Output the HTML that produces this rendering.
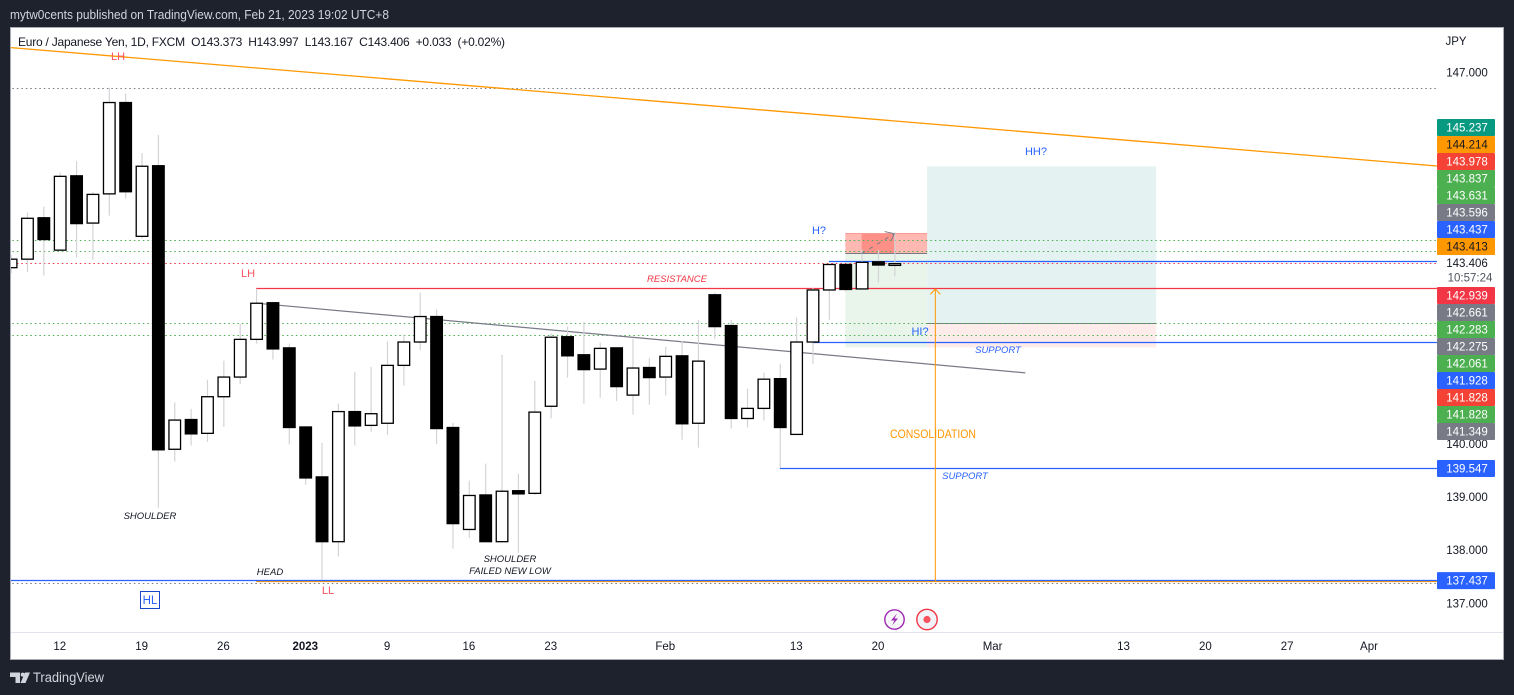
<!DOCTYPE html>
<html lang="en">
<head>
<meta charset="utf-8">
<title>EUR/JPY chart</title>
<style>
html,body{margin:0;padding:0;background:#1e222d;width:1514px;height:695px;overflow:hidden}
svg{display:block;font-family:"Liberation Sans",sans-serif}
</style>
</head>
<body>
<svg id="root" width="1514" height="695" viewBox="0 0 1514 695" xmlns="http://www.w3.org/2000/svg">
  <defs><clipPath id="pane"><rect x="11" y="28" width="1426" height="604"/></clipPath></defs>
  <rect x="0" y="0" width="1514" height="695" fill="#1e222d"/>
  <text x="10" y="19" font-size="12.5" fill="#d1d4dc" textLength="379" lengthAdjust="spacingAndGlyphs">mytw0cents published on TradingView.com, Feb 21, 2023 19:02 UTC+8</text>
  <rect x="10.5" y="27.5" width="1493" height="632" fill="#fff" stroke="#a8abb4" stroke-width="1"/>
  <g id="pane-layer" clip-path="url(#pane)"></g>
  <g id="notes" font-size="11">
    <text x="118" y="60" fill="#f7525f" text-anchor="middle">LH</text>
    <text x="248" y="277" fill="#f7525f" text-anchor="middle">LH</text>
    <text x="677" y="282" fill="#f23645" font-size="9.5" font-style="italic" text-anchor="middle">RESISTANCE</text>
    <text x="819" y="234" fill="#2962ff" text-anchor="middle">H?</text>
    <text x="1036" y="155" fill="#2962ff" text-anchor="middle">HH?</text>
    <text x="920" y="335" fill="#2962ff" text-anchor="middle">HI?</text>
    <text x="998" y="353" fill="#2962ff" font-size="9.5" font-style="italic" text-anchor="middle">SUPPORT</text>
    <text x="965" y="479" fill="#2962ff" font-size="9.5" font-style="italic" text-anchor="middle">SUPPORT</text>
    <text x="933" y="438" fill="#ff9800" font-size="11.5" text-anchor="middle" textLength="86" lengthAdjust="spacingAndGlyphs">CONSOLIDATION</text>
    <text x="150" y="519" fill="#131722" font-size="9.5" font-style="italic" text-anchor="middle">SHOULDER</text>
    <text x="270" y="575" fill="#131722" font-size="9.5" font-style="italic" text-anchor="middle">HEAD</text>
    <text x="510" y="562" fill="#131722" font-size="9.5" font-style="italic" text-anchor="middle">SHOULDER</text>
    <text x="510" y="574" fill="#131722" font-size="9.5" font-style="italic" text-anchor="middle">FAILED NEW LOW</text>
    <text x="328" y="594" fill="#f7525f" text-anchor="middle">LL</text>
    <rect x="140.5" y="591.5" width="19" height="17" fill="#fff" stroke="#1848cc" stroke-width="1"/>
    <text x="150" y="604" fill="#2962ff" font-size="11.5" text-anchor="middle">HL</text>
  </g>
  <g>
    <circle cx="894.5" cy="619.5" r="9.7" fill="#f7f7fb" stroke="#9c27b0" stroke-width="1.4"/>
    <path d="M897 613.5 L891 620.5 H894.5 L892 625.5 L898 618.5 H894.5 Z" fill="#9c27b0"/>
  </g>
  <g>
    <circle cx="927" cy="619.5" r="10.2" fill="#f2f3f9" stroke="#f23645" stroke-width="1.4"/>
    <circle cx="927" cy="619.5" r="3.6" fill="#f7525f"/>
  </g>
  <line x1="11" y1="632.5" x2="1503" y2="632.5" stroke="#e0e3eb" stroke-width="1"/>
  <g id="time-axis" font-size="11.5" fill="#131722" text-anchor="middle"></g>
  <g id="price-axis" font-size="11.5" text-anchor="middle"></g>
  <text x="1456" y="45" font-size="11.5" fill="#131722" text-anchor="middle">JPY</text>
  <text x="18" y="46" font-size="12" fill="#131722" textLength="487" lengthAdjust="spacing">Euro / Japanese Yen, 1D, FXCM&#160;&#160;O143.373&#160;&#160;H143.997&#160;&#160;L143.167&#160;&#160;C143.406&#160;&#160;+0.033&#160;&#160;(+0.02%)</text>
  <g>
    <path d="M10 672.5 H20 V683 H15.5 V677 H10 Z M25 672.5 H30 L25.5 683 H20.5 Z" fill="#d1d4dc"/>
    <circle cx="22.7" cy="674.6" r="2" fill="#d1d4dc"/>
    <text x="33" y="682" font-size="13.5" fill="#d1d4dc" textLength="71" lengthAdjust="spacingAndGlyphs">TradingView</text>
  </g>
</svg>
<script>
var opens = [143.33,143.49,144.27,143.66,145.06,144.17,144.72,146.44,143.92,145.25,139.91,140.47,140.21,140.90,141.27,141.98,142.67,141.82,140.33,139.39,138.17,140.62,140.36,140.40,141.49,141.93,142.41,140.32,138.40,139.05,138.17,139.13,139.08,140.72,142.03,141.69,141.42,141.82,140.93,141.45,141.27,141.67,140.40,142.82,142.24,140.49,140.68,141.24,140.19,141.93,142.91,143.39,142.93,143.44,143.373];
var highs = [143.57,144.37,144.48,145.12,145.34,144.76,146.72,146.61,145.49,145.83,140.79,140.67,141.22,141.58,142.27,142.93,142.69,141.90,140.33,140.03,140.77,141.37,141.46,141.94,142.07,142.86,142.54,140.41,139.32,139.64,141.69,139.45,141.20,142.09,142.22,142.31,141.92,141.82,141.99,141.63,141.84,141.95,142.35,142.86,142.35,141.05,141.35,141.52,142.39,142.95,143.39,143.39,143.67,143.67,143.997];
var lows = [143.22,143.25,143.18,143.66,143.52,143.48,144.31,144.63,143.88,138.81,139.68,139.98,140.05,140.33,141.14,141.90,141.60,140.00,139.24,137.45,137.89,139.98,140.24,140.18,141.11,141.78,140.01,138.04,138.24,138.17,138.17,137.96,139.05,140.49,141.26,140.77,140.88,140.82,140.56,140.75,140.92,140.09,139.94,141.99,140.30,140.32,140.45,139.56,140.19,141.52,142.35,142.88,142.91,143.05,143.167];
var closes = [143.49,144.26,143.86,145.05,144.16,144.71,146.44,144.76,145.24,139.90,140.46,140.20,140.90,141.27,141.98,142.66,141.80,140.32,139.37,138.17,140.62,140.35,140.58,141.49,141.93,142.41,140.30,138.51,139.04,138.17,139.12,139.07,140.61,142.02,141.67,141.41,141.81,141.09,141.44,141.26,141.66,140.39,141.57,142.22,140.49,140.68,141.23,140.32,141.93,142.91,143.39,142.92,143.43,143.38,143.406];

var priceTicks = [147, 140, 139, 138, 137];
var timeTickBars = [3, 8, 13, 18, 23, 28, 33, 40, 48, 53, 60, 68, 73, 78, 83];
var timeTickLabels = ['12', '19', '26', '2023', '9', '16', '23', 'Feb', '13', '20', 'Mar', '13', '20', '27', 'Apr'];

var upperTagValues = ['145.237', '144.214', '143.978', '143.837', '143.631', '143.596', '143.437', '143.413'];
var upperTagFills = ['#089981', '#ff9800', '#f44336', '#4caf50', '#4caf50', '#787b86', '#2962ff', '#ff9800'];
var upperTagInks = ['#fff', '#131722', '#fff', '#fff', '#fff', '#fff', '#fff', '#131722'];
var lowerTagValues = ['142.939', '142.661', '142.283', '142.275', '142.061', '141.928', '141.828', '141.828', '141.349'];
var lowerTagFills = ['#f23645', '#787b86', '#4caf50', '#787b86', '#4caf50', '#2962ff', '#f44336', '#4caf50', '#787b86'];
var anchoredTagValues = [139.547, 137.437];

var greenDottedLevels = [143.837, 143.631, 142.283, 142.061];
var redDottedLevels = [143.406];
var greyDottedLevels = [146.704, 137.386];
var lastPrice = 143.406;
var countdown = '10:57:24';

var SVGNS = 'http://www.w3.org/2000/svg';
var pane = document.getElementById('pane-layer');
var timeAxis = document.getElementById('time-axis');
var priceAxis = document.getElementById('price-axis');

function xOf(bar) { return 10.7 + 16.365 * bar; }
function yOf(price) { return 72.8 + (147 - price) * 53.1; }
function snapY(price) { return Math.floor(yOf(price)) + 0.5; }
function make(tag) { return document.createElementNS(SVGNS, tag); }
function geom(el, a) { for (var k in a) { el.setAttribute(k, a[k]); } return el; }
var AXIS_RIGHT = 87.15;

function addBox(name, b0, b1, p0, p1, fill) {
  var el = geom(make('rect'), {x: xOf(b0), y: yOf(p0), width: xOf(b1) - xOf(b0), height: yOf(p1) - yOf(p0), fill: fill});
  
  
  pane.appendChild(el);
}
function addLine(name, b0, p0, b1, p1, color, width, dash) {
  var flat = p0 === p1;
  var el = geom(make('line'), {x1: xOf(b0), y1: flat ? snapY(p0) : yOf(p0), x2: xOf(b1), y2: flat ? snapY(p1) : yOf(p1), stroke: color, 'stroke-width': width});
  if (dash) { el.setAttribute('stroke-dasharray', dash); }
  
  
  pane.appendChild(el);
}

addBox('target-zone', 56, 70, 145.237, 142.275, '#e4f2f1');
addBox('stop-zone', 56, 70, 142.275, 141.828, '#fdecea');
addBox('entry-profit-zone', 51, 56, 143.596, 141.828, '#e9f5ea');
addBox('entry-risk-zone', 51, 56, 143.978, 143.596, '#ffb8b2');
addBox('entry-risk-highlight', 52, 54, 143.978, 143.596, '#ff9088');
addLine('entry-risk-top-edge', 51, 143.978, 56, 143.978, '#f99a93', 1);
addLine('entry-risk-bottom-edge', 51, 143.596, 56, 143.596, '#787b86', 1);
addLine('target-stop-divider', 56, 142.275, 70, 142.275, '#787b86', 1);

greyDottedLevels.forEach(function (p) {
  addLine('grey-dotted-level', -1, p, AXIS_RIGHT, p, '#787b86', 1, '1.5 3');
});
greenDottedLevels.forEach(function (p) {
  addLine('green-dotted-level', -1, p, AXIS_RIGHT, p, '#4caf50', 1, '1.5 3');
});
redDottedLevels.forEach(function (p) {
  addLine('red-dotted-level', -1, p, AXIS_RIGHT, p, '#f23645', 1, '1.5 3');
});

addLine('major-trendline', -0.04, 147.476, AXIS_RIGHT, 145.245, '#ff9800', 1.3);
addLine('neckline', 15, 142.661, 62, 141.349, '#787b86', 1.2);
addLine('resistance-line', 15, 142.939, AXIS_RIGHT, 142.939, '#f23645', 1.2);
addLine('blue-level-upper', 50, 143.437, AXIS_RIGHT, 143.437, '#2962ff', 1.2);
addLine('support-line-upper', 49, 141.928, AXIS_RIGHT, 141.928, '#2962ff', 1.2);
addLine('support-line-lower', 47, 139.547, AXIS_RIGHT, 139.547, '#2962ff', 1.2);
addLine('low-level-orange', 15, 137.42, AXIS_RIGHT, 137.42, '#ff9800', 1.2);
addLine('low-level-blue', -1, 137.437, AXIS_RIGHT, 137.437, '#2962ff', 1.2);
addLine('consolidation-range-line', 56.5, 137.42, 56.5, 142.93, '#ff9800', 1);
addLine('consolidation-arrow-left', 56.5, 142.93, 56.2, 142.83, '#ff9800', 1);
addLine('consolidation-arrow-right', 56.5, 142.93, 56.8, 142.83, '#ff9800', 1);

for (var i = 0; i < closes.length; i++) {
  var cx = xOf(i) + 0.4;
  var wick = geom(make('line'), {x1: cx, x2: cx, y1: yOf(highs[i]), y2: yOf(lows[i]), stroke: '#d3d4d8', 'stroke-width': 1.2});
  
  
  pane.appendChild(wick);
  var bodyHigh = Math.max(opens[i], closes[i]);
  var bodyLow = Math.min(opens[i], closes[i]);
  var isUp = closes[i] >= opens[i];
  var candleBody = geom(make('rect'), {
    x: cx - 5.8,
    y: yOf(bodyHigh),
    width: 11.6,
    height: Math.max(yOf(bodyLow) - yOf(bodyHigh), 1),
    fill: isUp ? '#fff' : '#000',
    stroke: '#000',
    'stroke-width': 1.3
  });
  
  
  pane.appendChild(candleBody);
}

addLine('projection-arrow', 52, 143.596, 54, 143.97, '#787b86', 1, '4 5');
addLine('projection-arrow-head-a', 53.4, 144.01, 54, 143.97, '#787b86', 1);
addLine('projection-arrow-head-b', 53.8, 143.84, 54, 143.97, '#787b86', 1);

timeTickLabels.forEach(function (label, n) {
  var t = make('text');
  t.setAttribute('x', xOf(timeTickBars[n]));
  t.setAttribute('y', 650);
  if (label === '2023') { t.setAttribute('font-weight', 'bold'); }
  t.textContent = label;
  
  
  timeAxis.appendChild(t);
});

priceTicks.forEach(function (p) {
  var t = make('text');
  t.setAttribute('x', 1467);
  t.setAttribute('y', yOf(p) + 3.5);
  t.setAttribute('fill', '#131722');
  t.textContent = p.toFixed(3);
  
  
  priceAxis.appendChild(t);
});

function drawTag(centerY, label, fill, ink) {
  var r = geom(make('rect'), {x: 1437, y: centerY - 8.5, width: 58, height: 17, fill: fill, rx: 1});
  
  
  priceAxis.appendChild(r);
  var t = geom(make('text'), {x: 1467, y: centerY + 4, fill: ink});
  t.textContent = label;
  
  
  priceAxis.appendChild(t);
}
upperTagValues.forEach(function (v, n) { drawTag(127.5 + 17 * n, v, upperTagFills[n], upperTagInks[n]); });
lowerTagValues.forEach(function (v, n) { drawTag(295.5 + 17 * n, v, lowerTagFills[n], '#fff'); });
anchoredTagValues.forEach(function (v) { drawTag(yOf(v), v.toFixed(3), '#2962ff', '#fff'); });

var lastLabel = geom(make('text'), {x: 1467, y: yOf(lastPrice) + 3.5, fill: '#131722'});
lastLabel.textContent = lastPrice.toFixed(3);


priceAxis.appendChild(lastLabel);
var countdownLabel = geom(make('text'), {x: 1470, y: yOf(lastPrice) + 18, fill: '#50535e'});
countdownLabel.textContent = countdown;


priceAxis.appendChild(countdownLabel);
</script>
</body>
</html>
